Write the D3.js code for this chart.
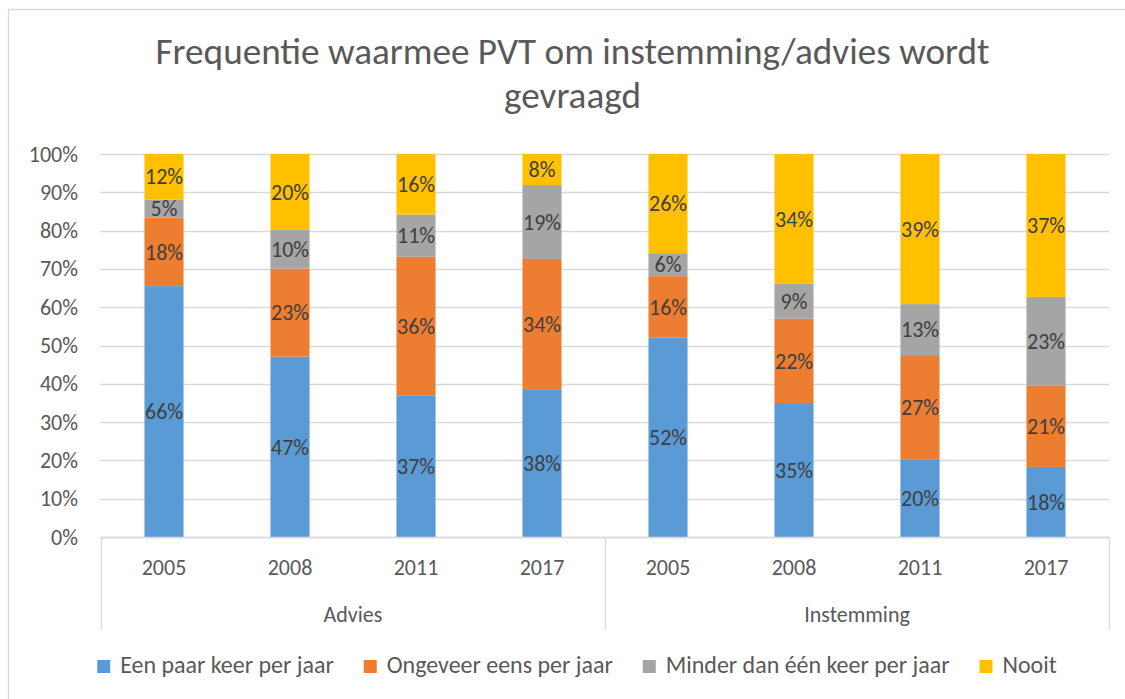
<!DOCTYPE html>
<html><head><meta charset="utf-8">
<script src="https://cdn.jsdelivr.net/npm/d3@7"></script>
<style>
html,body{margin:0;padding:0;background:#fff;}
svg text{font-family:Calibri,Carlito,Lato,"Open Sans",sans-serif;}
</style></head>
<body><svg id="chart" width="1125" height="699"></svg>
<script>
const titleLines = ["Frequentie waarmee PVT om instemming/advies wordt", "gevraagd"];
const groups = ["Advies", "Instemming"];
const years = ["2005", "2008", "2011", "2017"];
const seriesNames = ["Een paar keer per jaar", "Ongeveer eens per jaar", "Minder dan één keer per jaar", "Nooit"];
const seriesColors = ["#5B9BD5", "#ED7D31", "#A5A5A5", "#FFC000"];
const eenPaar  = [65.5, 47.1, 37.0, 38.4, 52.1, 35.0, 20.3, 18.3];
const ongeveer = [17.9, 23.0, 36.2, 34.2, 16.0, 22.0, 27.2, 21.3];
const minder   = [4.7, 10.1, 11.0, 19.3, 6.0, 9.1, 13.3, 23.1];
const nooit    = [11.9, 19.8, 15.8, 8.1, 25.9, 33.9, 39.2, 37.3];
const yTicks = [0, 0.1, 0.2, 0.3, 0.4, 0.5, 0.6, 0.7, 0.8, 0.9, 1.0];

const seriesValues = [eenPaar, ongeveer, minder, nooit];
const rows = [];
groups.forEach((g, gi) => years.forEach((yr, yi) => {
  const i = gi * years.length + yi;
  const r = {key: g + "|" + yr, group: g, year: yr};
  seriesNames.forEach((s, si) => r[s] = seriesValues[si][i]);
  rows.push(r);
}));

const svg = d3.select("#chart");
const W = 1125, H = 699;
const pL = 101, pR = 1109, pT = 154, pB = 537;

svg.append("rect").attr("width", W).attr("height", H).attr("fill", "#fff");
svg.append("rect").attr("x", 8.5).attr("y", 9.5).attr("width", 1128).attr("height", 720)
  .attr("fill", "none").attr("stroke", "#D9D9D9").attr("stroke-width", 1.3);

const x = d3.scaleBand().domain(rows.map(d => d.key)).range([pL, pR])
  .paddingInner(0.69).paddingOuter(0.345);
const y = d3.scaleLinear().domain([0, 1]).range([pB, pT]);

// gridlines
svg.append("g").selectAll("line").data(yTicks).join("line")
  .attr("x1", pL - 1).attr("x2", pR).attr("y1", d => Math.round(y(d)) + 0.5).attr("y2", d => Math.round(y(d)) + 0.5)
  .attr("stroke", "#D9D9D9").attr("stroke-width", 1.3);

// y axis labels
const yAxis = svg.append("g").attr("transform", `translate(${pL},0)`)
  .call(d3.axisLeft(y).tickValues(yTicks).tickFormat(d3.format(".0%")).tickSize(0).tickPadding(23));
yAxis.select(".domain").remove();
yAxis.selectAll("text").attr("font-size", 22).attr("fill", "#595959")
  .attr("font-family", "Calibri,Carlito,Lato,'Open Sans',sans-serif");

// stacks
const stack = d3.stack().keys(seriesNames).offset(d3.stackOffsetExpand);
const stacked = stack(rows);

const layers = svg.append("g").selectAll("g").data(stacked).join("g")
  .attr("fill", (d, i) => seriesColors[i]);
layers.selectAll("rect").data(d => d).join("rect")
  .attr("x", d => x(d.data.key)).attr("width", x.bandwidth())
  .attr("y", d => y(d[1])).attr("height", d => y(d[0]) - y(d[1]));

// data labels
const lab = svg.append("g");
stacked.forEach((layer) => {
  lab.selectAll(null).data(layer).join("text")
    .attr("x", d => x(d.data.key) + x.bandwidth() / 2)
    .attr("y", d => (y(d[0]) + y(d[1])) / 2)
    .attr("dy", "0.35em")
    .attr("text-anchor", "middle").attr("font-size", 22).attr("fill", "#404040")
    .text(d => Math.round(d.data[layer.key]) + "%");
});

// category axis
const axisG = svg.append("g");
axisG.append("line").attr("x1", pL).attr("x2", pR).attr("y1", pB + 0.5).attr("y2", pB + 0.5)
  .attr("stroke", "#D9D9D9").attr("stroke-width", 1.3);
const groupBounds = groups.map(g => {
  const keys = rows.filter(r => r.group === g).map(r => r.key);
  const a = x(keys[0]) - x.step() * x.paddingInner() / 2;
  const b = x(keys[keys.length - 1]) + x.bandwidth() + x.step() * x.paddingInner() / 2;
  return {g, a, b};
});
const seps = [groupBounds[0].a].concat(groupBounds.map(d => d.b));
axisG.selectAll(".sep").data(seps).join("line").attr("class", "sep")
  .attr("x1", d => Math.round(d) + 0.5).attr("x2", d => Math.round(d) + 0.5)
  .attr("y1", pB).attr("y2", 630).attr("stroke", "#D9D9D9").attr("stroke-width", 1.3);
axisG.selectAll(".yr").data(rows).join("text").attr("class", "yr")
  .attr("x", d => x(d.key) + x.bandwidth() / 2).attr("y", 575)
  .attr("text-anchor", "middle").attr("font-size", 22).attr("fill", "#595959").text(d => d.year);
axisG.selectAll(".grp").data(groupBounds).join("text").attr("class", "grp")
  .attr("x", d => (d.a + d.b) / 2).attr("y", 622)
  .attr("text-anchor", "middle").attr("font-size", 22).attr("fill", "#595959").text(d => d.g);

// title
const tg = svg.append("g");
const tl = tg.selectAll("text").data(titleLines).join("text")
  .attr("x", 572.5).attr("y", (d, i) => 64 + i * 44)
  .attr("text-anchor", "middle").attr("font-size", 32).attr("font-weight", 300)
  .attr("fill", "#595959").text(d => d);
const w0 = tl.nodes()[0].getComputedTextLength();
tl.attr("font-size", 32 * 834 / w0);

// legend
const lg = svg.append("g");
const items = lg.selectAll("g").data(seriesNames).join("g");
items.append("rect").attr("width", 13).attr("height", 13).attr("y", 660)
  .attr("fill", (d, i) => seriesColors[i]);
const lt = items.append("text").attr("y", 673).attr("font-size", 22).attr("fill", "#595959").text(d => d);
let totalText = 0;
lt.each(function () { totalText += this.getComputedTextLength(); });
const targetText = 215 + 226 + 285 + 52;
const fs = 22 * targetText / totalText;
lt.attr("font-size", fs);
const widths = [];
lt.each(function () { widths.push(this.getComputedTextLength()); });
const sw = 13, gapT = 10, gapItem = 30;
const total = d3.sum(widths) + seriesNames.length * (sw + gapT) + (seriesNames.length - 1) * gapItem;
let cx = 577 - total / 2;
items.each(function (d, i) {
  const g = d3.select(this);
  g.select("rect").attr("x", cx);
  g.select("text").attr("x", cx + sw + gapT);
  cx += sw + gapT + widths[i] + gapItem;
});
</script></body></html>
